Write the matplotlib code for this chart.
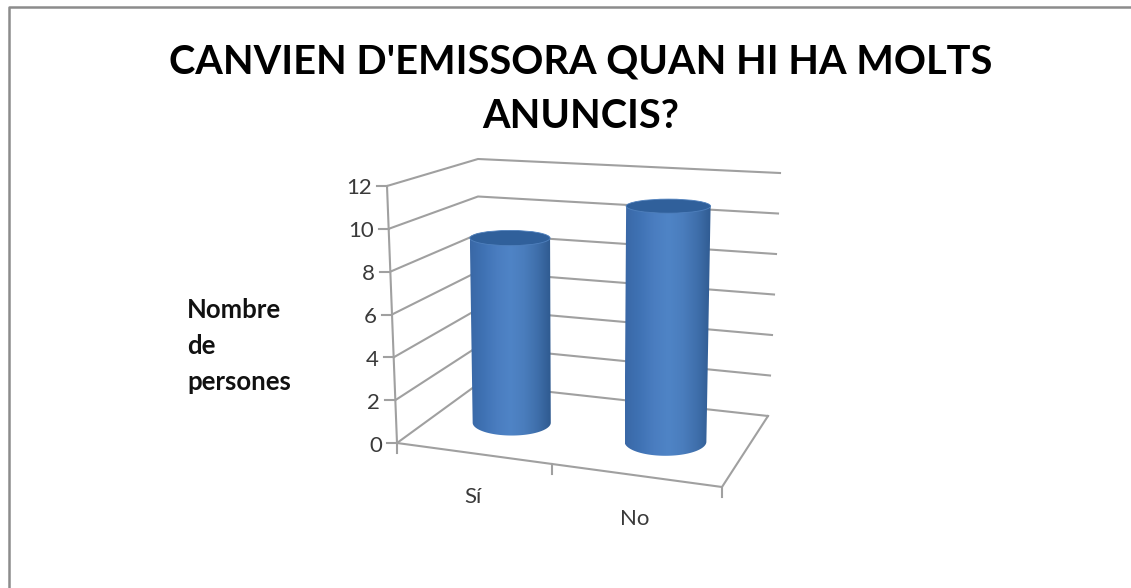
import numpy as np
import matplotlib
matplotlib.use("Agg")
import matplotlib.pyplot as plt
from matplotlib.colors import LinearSegmentedColormap
from matplotlib.patches import Ellipse, Polygon

title = "CANVIEN D'EMISSORA QUAN HI HA MOLTS\nANUNCIS?"
categories = ["Sí", "No"]
values = [9, 11]
y_ticks = [0, 2, 4, 6, 8, 10, 12]
y_label_lines = ["Nombre", "de", "persones"]

# 3D box corners in pixels: (u, depth, value) -> trilinear projection
C = {(0, 0, 0): (397, 443), (0, 0, 1): (387, 186),
     (0, 1, 0): (478, 384), (0, 1, 1): (478, 159),
     (1, 1, 0): (768, 416), (1, 1, 1): (780, 173),
     (1, 0, 0): (722, 487), (1, 0, 1): (722, 205)}
YMAX = max(y_ticks)
NCAT = len(categories)


def P(u, d, v):
    a, b, c = u / NCAT, d, v / YMAX
    a = a - 0.092 * a * (1 - a) * (1 - b)  # perspective foreshortening
    out = np.zeros(2)
    for (i, j, k), p in C.items():
        w = (a if i else 1 - a) * (b if j else 1 - b) * (c if k else 1 - c)
        out += w * np.array(p, float)
    return out


fig = plt.figure(figsize=(11.31, 5.88), dpi=100, facecolor="white")
ax = fig.add_axes([0, 0, 1, 1])
ax.axis("off")

# outer frame
ax.plot([8.5, 8.5, 1131], [588, 6.5, 6.5], color="#8c8c8c", lw=1.8, solid_capstyle="butt")

GRID = "#a0a0a0"
TXT = "#3a3a3a"
for v in y_ticks:
    pts = np.array([P(0, 0, v), P(0, 1, v), P(NCAT, 1, v)])
    ax.plot(pts[:, 0], pts[:, 1], color=GRID, lw=1.5, zorder=1)
    a = P(0, 0, v)
    ax.plot([a[0] - 10, a[0]], [a[1], a[1]], color=GRID, lw=1.5, zorder=1)
    ax.text(a[0] - 15, a[1] + 2.5, str(v), ha="right", va="center", fontsize=16,
            family="Lato", color=TXT)

# walls / floor outline
pts = np.array([P(0, 0, YMAX), P(0, 0, 0), P(NCAT, 0, 0), P(NCAT, 1, 0)])
ax.plot(pts[:, 0], pts[:, 1], color=GRID, lw=1.5, zorder=1)
for i in range(NCAT + 1):
    a = P(i, 0, 0)
    ax.plot([a[0], a[0]], [a[1], a[1] + 10], color=GRID, lw=1.5, zorder=1)

# category labels
for i, c in enumerate(categories):
    a = P(i + 0.5, 0, 0)
    ax.text(a[0], a[1] + 44, c, ha="center", va="center", fontsize=16,
            family="Lato", color=TXT)

# cylinders
side = LinearSegmentedColormap.from_list(
    "side", ["#3a68a6", "#3f72b4", "#4a7dc0", "#4f84c6", "#4a7dbd", "#3f6fab", "#2f5a90"])
RU, RD = 0.26, 0.21
for i, val in enumerate(values):
    u = i + 0.5
    top, bot = P(u, 0.5, val), P(u, 0.5, 0)
    rx_t = (P(u + RU, 0.5, val)[0] - P(u - RU, 0.5, val)[0]) / 2
    rx_b = (P(u + RU, 0.5, 0)[0] - P(u - RU, 0.5, 0)[0]) / 2
    ry_t = abs(P(u, 0.5 + RD, val)[1] - P(u, 0.5 - RD, val)[1]) / 2
    ry_b = abs(P(u, 0.5 + RD, 0)[1] - P(u, 0.5 - RD, 0)[1]) / 2
    th = np.linspace(np.pi, 0, 121)
    outline = np.vstack([
        [[top[0] - rx_t, top[1]], [top[0] + rx_t, top[1]]],
        np.column_stack([bot[0] + rx_b * np.cos(th[::-1]), bot[1] + ry_b * np.sin(th[::-1])]),
    ])
    clip = Polygon(outline, closed=True, transform=ax.transData, facecolor="none", edgecolor="none")
    ax.add_patch(clip)
    xmin, xmax = outline[:, 0].min(), outline[:, 0].max()
    ymin, ymax = outline[:, 1].min(), outline[:, 1].max()
    im = ax.imshow(np.linspace(0, 1, 256)[None, :], cmap=side, vmin=0, vmax=1, aspect="auto",
                   extent=[xmin, xmax, ymax, ymin], zorder=3, interpolation="bilinear")
    im.set_clip_path(clip)
    ax.add_patch(Ellipse(top, 2 * rx_t, 2 * ry_t, facecolor="#30609b", edgecolor="#4f80bd",
                         lw=0.6, zorder=4))

ax.set_xlim(0, 1131)
ax.set_ylim(588, 0)

ax.text(581, 89.5, title, ha="center", va="center", fontsize=28.6, fontweight="bold",
        family="Lato", color="black", linespacing=1.6)
for txt, y in zip(y_label_lines, [310, 346, 382]):
    ax.text(187, y, txt, ha="left", va="center", fontsize=18.5, fontweight="bold",
            family="Lato", color="#111111")

fig.savefig("out.png", dpi=100, facecolor="white")
